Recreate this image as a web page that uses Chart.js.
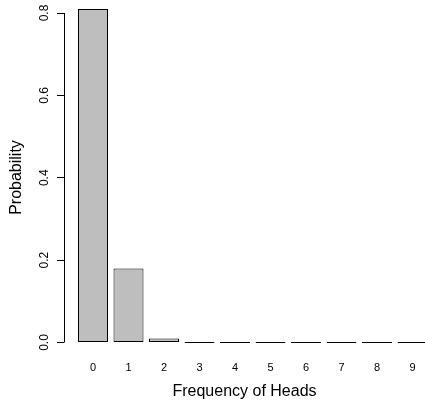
<!DOCTYPE html>
<html>
<head>
<meta charset="utf-8">
<script src="https://cdn.jsdelivr.net/npm/chart.js@4/dist/chart.umd.min.js"></script>
<style>
  html, body { margin: 0; padding: 0; background: #fff; }
  #wrap { width: 425px; height: 401px; }
</style>
</head>
<body>
<div id="wrap"><canvas id="c" width="425" height="401"></canvas></div>
<script>
const categories = [0, 1, 2, 3, 4, 5, 6, 7, 8, 9];
const probabilities = [0.81, 0.18, 0.01, 0, 0, 0, 0, 0, 0, 0];
const yTickValues = [0, 0.2, 0.4, 0.6, 0.8];
const yTickLabels = ['0.0', '0.2', '0.4', '0.6', '0.8'];
const xTitle = 'Frequency of Heads';
const yTitle = 'Probability';

const FONT = "'Liberation Sans', Arial, Helvetica, sans-serif";

const axisLinePlugin = {
  id: 'axisLine',
  afterDraw(chart) {
    const y = chart.scales.y;
    const ctx = chart.ctx;
    const x = Math.round(y.right) + 0.5;
    ctx.save();
    ctx.strokeStyle = '#000';
    ctx.lineWidth = 1;
    ctx.beginPath();
    ctx.moveTo(x, y.getPixelForValue(yTickValues[0]));
    ctx.lineTo(x, y.getPixelForValue(yTickValues[yTickValues.length - 1]));
    ctx.stroke();
    ctx.restore();
  }
};

new Chart(document.getElementById('c'), {
  type: 'bar',
  data: {
    datasets: [{
      data: categories.map((c, i) => ({ x: c, y: probabilities[i] })),
      backgroundColor: '#bebebe',
      borderColor: '#000',
      borderWidth: 1,
      borderSkipped: false,
      barPercentage: 0.845,
      categoryPercentage: 1,
      minBarLength: 1
    }]
  },
  options: {
    responsive: false,
    animation: false,
    devicePixelRatio: 1,
    layout: { padding: 0 },
    plugins: { legend: { display: false }, tooltip: { enabled: false } },
    scales: {
      x: {
        type: 'linear',
        offset: false,
        min: -0.817,
        max: 9.352,
        grid: { display: false, drawTicks: false },
        border: { display: false },
        afterBuildTicks: (s) => { s.ticks = categories.map(v => ({ value: v })); },
        afterFit: (s) => { s.height = 46; s.paddingLeft = 0; s.paddingRight = 0; },
        ticks: {
          autoSkip: false,
          maxRotation: 0,
          padding: 6,
          color: '#000',
          font: { family: FONT, size: 11 },
          callback: (v) => String(v)
        },
        title: {
          display: true,
          text: xTitle,
          color: '#000',
          font: { family: FONT, size: 16 },
          padding: { top: 0, bottom: 0 }
        }
      },
      y: {
        type: 'linear',
        min: -0.0303,
        max: 0.8316,
        grid: { drawOnChartArea: false, drawTicks: true, tickLength: 7, color: '#000', lineWidth: 1 },
        border: { display: false },
        afterBuildTicks: (s) => { s.ticks = yTickValues.map(v => ({ value: v })); },
        afterFit: (s) => { s.width = 64; s.paddingTop = 0; s.paddingBottom = 0; },
        ticks: {
          autoSkip: false,
          minRotation: 90,
          maxRotation: 90,
          crossAlign: 'center',
          padding: 4,
          color: '#000',
          font: { family: FONT, size: 12 },
          callback: (v) => yTickLabels[yTickValues.indexOf(v)] ?? ''
        },
        title: {
          display: true,
          text: yTitle,
          color: '#000',
          font: { family: FONT, size: 16 },
          padding: { top: 7, bottom: 0 }
        }
      }
    }
  },
  plugins: [axisLinePlugin]
});
</script>
</body>
</html>
